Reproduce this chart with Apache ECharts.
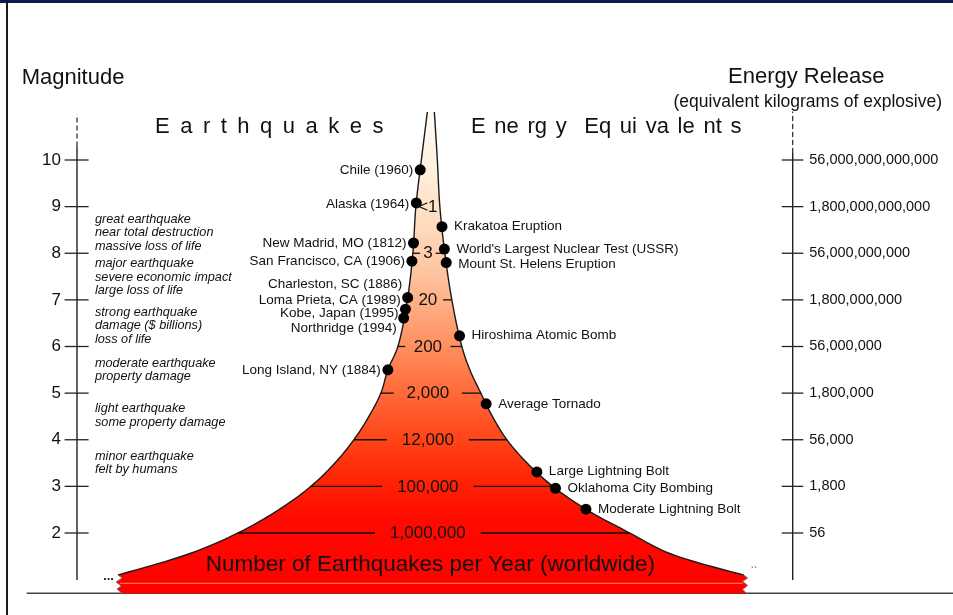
<!DOCTYPE html>
<html><head><meta charset="utf-8">
<script src="https://cdn.jsdelivr.net/npm/echarts@6/dist/echarts.min.js"></script>
<style>html,body{margin:0;padding:0;background:#fff;}#chart{width:953px;height:615px;}</style>
</head><body><div id="chart"></div>
<script>
const FF = '"Liberation Sans", Arial, Helvetica, sans-serif';

// ---- Axis scales ----
const magnitudes = [2, 3, 4, 5, 6, 7, 8, 9, 10];
const magnitudeLabels = ['2', '3', '4', '5', '6', '7', '8', '9', '10'];
const energyLabels = ['56', '1,800', '56,000', '1,800,000', '56,000,000', '1,800,000,000',
  '56,000,000,000', '1,800,000,000,000', '56,000,000,000,000'];

// ---- Number of earthquakes per year at each magnitude ----
const countMags = [2, 3, 4, 5, 6, 7, 8, 9];
const countLabels = ['1,000,000', '100,000', '12,000', '2,000', '200', '20', '3', '<1'];

// ---- Funnel outline (magnitude, left / right half-width) ----
const funnelMag   = [11.03, 10, 9, 8, 7, 6, 5.5, 5, 4.5, 4, 3.5, 3, 2.5, 2, 1.56, 1.1];
const funnelLeft  = [-3.5, -9.5, -15, -18, -23.5, -33, -43, -50, -62, -77, -96, -120, -152, -193, -241, -313];
const funnelRight = [3.5, 6.5, 9, 14, 21, 31, 39, 50, 61.6, 76, 96.3, 122, 155.8, 199, 239, 313];

// ---- Earthquakes (left side) ----
const quakeNames = ['Chile (1960)', 'Alaska (1964)', 'New Madrid, MO (1812)', 'San Francisco, CA (1906)',
  'Charleston, SC (1886)', 'Loma Prieta, CA (1989)', 'Kobe, Japan (1995)', 'Northridge (1994)', 'Long Island, NY (1884)'];
const quakeMag      = [9.79, 9.08, 8.22, 7.83, null, 7.05, 6.80, 6.61, 5.50];
const quakeLabelMag = [9.79, 9.04, 8.22, 7.83, 7.34, 7.00, 6.72, 6.40, 5.50];

// ---- Energy equivalents (right side) ----
const energyNames = ['Krakatoa Eruption', "World's Largest Nuclear Test (USSR)", 'Mount St. Helens Eruption',
  'Hiroshima Atomic Bomb', 'Average Tornado', 'Large Lightning Bolt', 'Oklahoma City Bombing', 'Moderate Lightning Bolt'];
const energyMag      = [8.57, 8.09, 7.80, 6.23, 4.77, 3.31, 2.96, 2.51];
const energyLabelMag = [8.57, 8.09, 7.77, 6.25, 4.77, 3.33, 2.96, 2.51];

// ---- Severity descriptions ----
const severityText = [
  'great earthquake\nnear total destruction\nmassive loss of life',
  'major earthquake\nsevere economic impact\nlarge loss of life',
  'strong earthquake\ndamage ($ billions)\nloss of life',
  'moderate earthquake\nproperty damage',
  'light earthquake\nsome property damage',
  'minor earthquake\nfelt by humans'
];
const severityMag = [8.443, 7.486, 6.442, 5.498, 4.52, 3.50];

const X_MIN = -354, X_MAX = 362, Y_MIN = 0.7, Y_MAX = 11.2;
const BASE_MAG = 0.705;

const mctx = document.createElement('canvas').getContext('2d');
function textW(t, font) { mctx.font = font; return mctx.measureText(t).width; }

function edgeAt(mag, arr) {
  for (let i = 0; i < funnelMag.length - 1; i++) {
    const a = funnelMag[i], b = funnelMag[i + 1];
    if (mag <= a && mag >= b) { const t = (mag - a) / (b - a); return arr[i] + t * (arr[i + 1] - arr[i]); }
  }
  return mag > funnelMag[0] ? arr[0] : arr[arr.length - 1];
}

// centripetal Catmull-Rom through pixel points (rendering only)
function smoothPts(p, n) {
  const out = [p[0]];
  for (let i = 0; i < p.length - 1; i++) {
    const p0 = p[Math.max(0, i - 1)], p1 = p[i], p2 = p[i + 1], p3 = p[Math.min(p.length - 1, i + 2)];
    const d = (a, b) => Math.pow(Math.hypot(b[0] - a[0], b[1] - a[1]) || 1e-4, 0.5);
    const t0 = 0, t1 = t0 + d(p0, p1), t2 = t1 + d(p1, p2), t3 = t2 + d(p2, p3);
    for (let k = 1; k <= n; k++) {
      const t = t1 + (t2 - t1) * k / n;
      const L = (a, b, ta, tb) => [(tb - t) / (tb - ta) * a[0] + (t - ta) / (tb - ta) * b[0], (tb - t) / (tb - ta) * a[1] + (t - ta) / (tb - ta) * b[1]];
      const A1 = L(p0, p1, t0, t1), A2 = L(p1, p2, t1, t2), A3 = L(p2, p3, t2, t3);
      const B1 = L(A1, A2, t0, t2), B2 = L(A2, A3, t1, t3);
      out.push(L(B1, B2, t1, t2));
    }
  }
  return out;
}

const chart = echarts.init(document.getElementById('chart'), null, { renderer: 'canvas' });

const gradient = new echarts.graphic.LinearGradient(0, 0, 0, 1, [
  { offset: 0, color: '#fffcf6' },
  { offset: 0.12, color: '#fff0dd' },
  { offset: 0.245, color: '#fed9bb' },
  { offset: 0.35, color: '#ffbf9a' },
  { offset: 0.432, color: '#ffa277' },
  { offset: 0.494, color: '#ff8c5c' },
  { offset: 0.583, color: '#ff6a3a' },
  { offset: 0.681, color: '#ff4418' },
  { offset: 0.764, color: '#ff2405' },
  { offset: 0.847, color: '#ff0a00' },
  { offset: 1, color: '#ff0000' }
]);

function spacedText(text, x, y, font, gap) {
  const parts = text.split(' ');
  const els = [];
  let cx = x;
  parts.forEach(p => {
    if (p.length) {
      els.push({ type: 'text', x: cx, y: y, style: { text: p, font: font, fill: '#111', align: 'left', verticalAlign: 'middle' } });
      cx += textW(p, font);
    }
    cx += gap;
  });
  return els;
}

const titleFont = '22px ' + FF;

const option = {
  animation: false,
  backgroundColor: '#ffffff',
  grid: { left: 77, right: 160.3, top: 104.05, bottom: 21.39, containLabel: false },
  xAxis: { type: 'value', min: X_MIN, max: X_MAX, show: false },
  yAxis: [
    {
      type: 'value', min: Y_MIN, max: Y_MAX, position: 'left',
      axisLine: { show: false }, splitLine: { show: false }, axisTick: { show: false },
      axisLabel: { show: true, margin: 16, customValues: magnitudes, fontSize: 17, fontFamily: FF, color: '#111',
        formatter: v => magnitudeLabels[magnitudes.indexOf(Math.round(v))] }
    },
    {
      type: 'value', min: Y_MIN, max: Y_MAX, position: 'right',
      axisLine: { show: false }, splitLine: { show: false }, axisTick: { show: false },
      axisLabel: { show: true, margin: 16.6, customValues: magnitudes, fontSize: 14.5, fontFamily: FF, color: '#111',
        formatter: v => energyLabels[magnitudes.indexOf(Math.round(v))] }
    }
  ],
  graphic: [
    { type: 'rect', shape: { x: 0, y: 0, width: 953, height: 3 }, style: { fill: '#0b1d4d' } },
    { type: 'rect', shape: { x: 6, y: 0, width: 2, height: 615 }, style: { fill: '#1a1a1a' } },
    { type: 'line', shape: { x1: 26.7, y1: 593.3, x2: 953, y2: 593.3 }, style: { stroke: '#444', lineWidth: 1.5 } },
    { type: 'text', x: 21.7, y: 78, style: { text: 'Magnitude', font: titleFont, fill: '#111', align: 'left', verticalAlign: 'middle' } },
    { type: 'text', x: 728, y: 77, style: { text: 'Energy Release', font: titleFont, fill: '#111', align: 'left', verticalAlign: 'middle' } },
    { type: 'text', x: 942, y: 102, style: { text: '(equivalent kilograms of explosive)', font: '17.5px ' + FF, fill: '#111', align: 'right', verticalAlign: 'middle' } },
    ...spacedText('E a r t h q u a k e s', 155, 127, titleFont, 10.5),
    ...spacedText('E ne rg y  Eq ui va le nt s', 471, 127, titleFont, 8.7)
  ],
  series: [
    // Funnel
    {
      type: 'custom', name: 'funnel', z: 2, clip: false, data: [[0, 5]],
      renderItem: function (params, api) {
        const left = smoothPts(funnelMag.map((m, i) => api.coord([funnelLeft[i], m])), 10);
        const right = smoothPts(funnelMag.map((m, i) => api.coord([funnelRight[i], m])), 10);
        const base = api.coord([0, BASE_MAG])[1];
        const bl = left[left.length - 1], br = right[right.length - 1];
        const jagL = [[bl[0] + 4, bl[1] + 3], [bl[0] - 2, bl[1] + 7], [bl[0] + 3, bl[1] + 11], [bl[0] - 1, bl[1] + 14], [bl[0] + 4, base]];
        const jagR = [[br[0] + 3, base], [br[0] - 1, base - 4], [br[0] + 4, base - 8], [br[0] - 1, base - 12], [br[0] + 4, br[1] + 3]];
        const pts = left.concat(jagL, jagR, right.slice().reverse());
        const c = api.coord([-0.5, 1.31]);
        return {
          type: 'group', children: [
            { type: 'polygon', shape: { points: pts }, style: { fill: gradient, stroke: null } },
            { type: 'polyline', shape: { points: left }, style: { stroke: '#1a1a1a', lineWidth: 1.4, fill: null } },
            { type: 'polyline', shape: { points: right }, style: { stroke: '#1a1a1a', lineWidth: 1.4, fill: null } },
            { type: 'polyline', shape: { points: [bl].concat(jagL) }, style: { stroke: '#777', lineWidth: 0.8, fill: null } },
            { type: 'polyline', shape: { points: jagR.concat([br]) }, style: { stroke: '#777', lineWidth: 0.8, fill: null } },
            { type: 'line', shape: { x1: bl[0] + 2, y1: base - 10, x2: br[0] - 1, y2: base - 10 }, style: { stroke: '#ff7040', lineWidth: 1.2 } },
            { type: 'text', x: bl[0] - 4, y: bl[1] + 1, style: { text: '...', font: 'bold 13px ' + FF, fill: '#222', align: 'right', verticalAlign: 'middle' } },
            { type: 'text', x: br[0] + 7, y: br[1] - 3, style: { text: '``', font: '10px ' + FF, fill: '#444', align: 'left', verticalAlign: 'middle' } },
            { type: 'text', x: c[0], y: c[1], style: { text: 'Number of Earthquakes per Year (worldwide)', font: '22.5px ' + FF, fill: '#111', align: 'center', verticalAlign: 'middle' } }
          ]
        };
      }
    },
    // Level lines with earthquake counts
    {
      type: 'custom', name: 'counts', z: 3, clip: false, data: countMags.map((m, i) => [i, m]),
      renderItem: function (params, api) {
        const i = params.dataIndex, m = countMags[i], label = countLabels[i];
        const font = '17px ' + FF;
        const L = api.coord([edgeAt(m, funnelLeft), m]);
        const R = api.coord([edgeAt(m, funnelRight), m]);
        const c = api.coord([-3, m]);
        const w = textW(label, font);
        const gap = Math.min(15, Math.max(3, w * 0.3));
        const lx = c[0] - w / 2 - gap, rx = c[0] + w / 2 + gap;
        const ch = [];
        if (lx - L[0] > 1) ch.push({ type: 'line', shape: { x1: L[0], y1: L[1], x2: lx, y2: L[1] }, style: { stroke: '#111', lineWidth: 1.3 } });
        if (R[0] - rx > 1) ch.push({ type: 'line', shape: { x1: rx, y1: R[1], x2: R[0], y2: R[1] }, style: { stroke: '#111', lineWidth: 1.3 } });
        ch.push({ type: 'text', x: c[0], y: c[1] + 0.5, style: { text: label, font: font, fill: '#111', align: 'center', verticalAlign: 'middle' } });
        return { type: 'group', children: ch };
      }
    },
    // Earthquake events
    {
      type: 'custom', name: 'quakes', z: 4, clip: false, data: quakeNames.map((n, i) => [i, quakeLabelMag[i]]),
      renderItem: function (params, api) {
        const i = params.dataIndex;
        const dm = quakeMag[i], lm = quakeLabelMag[i];
        const ch = [];
        const ref = dm != null ? dm : lm;
        const p = api.coord([edgeAt(ref, funnelLeft), ref]);
        const pl = api.coord([edgeAt(lm, funnelLeft), lm]);
        if (dm != null) ch.push({ type: 'circle', shape: { cx: p[0], cy: p[1], r: 5.5 }, style: { fill: '#000' } });
        ch.push({ type: 'text', x: p[0] - 7, y: pl[1], style: { text: quakeNames[i], font: '13.5px ' + FF, fill: '#111', align: 'right', verticalAlign: 'middle' } });
        return { type: 'group', children: ch };
      }
    },
    // Energy equivalents
    {
      type: 'custom', name: 'energy', z: 4, clip: false, data: energyNames.map((n, i) => [i, energyMag[i]]),
      renderItem: function (params, api) {
        const i = params.dataIndex;
        const p = api.coord([edgeAt(energyMag[i], funnelRight), energyMag[i]]);
        const pl = api.coord([0, energyLabelMag[i]]);
        return {
          type: 'group', children: [
            { type: 'circle', shape: { cx: p[0], cy: p[1], r: 5.5 }, style: { fill: '#000' } },
            { type: 'text', x: p[0] + 12, y: pl[1], style: { text: energyNames[i], font: '13.5px ' + FF, fill: '#111', align: 'left', verticalAlign: 'middle' } }
          ]
        };
      }
    },
    // Severity descriptions
    {
      type: 'custom', name: 'severity', z: 4, clip: false, data: severityMag.map((m, i) => [i, m]),
      renderItem: function (params, api) {
        const i = params.dataIndex;
        const p = api.coord([X_MIN, severityMag[i]]);
        return { type: 'text', x: p[0] + 18, y: p[1], style: { text: severityText[i], font: 'italic 12.7px ' + FF, fill: '#111', align: 'left', verticalAlign: 'middle', lineHeight: 13.6 } };
      }
    },
    // Axis ticks crossing both axis lines
    {
      type: 'custom', name: 'ticks', z: 5, clip: false, data: magnitudes.map(m => [0, m]),
      renderItem: function (params, api) {
        const m = magnitudes[params.dataIndex];
        const a = api.coord([X_MIN, m]), b = api.coord([X_MAX, m]);
        return {
          type: 'group', children: [
            { type: 'line', shape: { x1: a[0] - 12.4, y1: a[1], x2: a[0] + 11.6, y2: a[1] }, style: { stroke: '#222', lineWidth: 1.3 } },
            { type: 'line', shape: { x1: b[0] - 11, y1: b[1], x2: b[0] + 10.6, y2: b[1] }, style: { stroke: '#222', lineWidth: 1.3 } }
          ]
        };
      }
    },
    // Axis lines
    { type: 'line', clip: false, symbol: 'none', silent: true, data: [[X_MIN, 0.992], [X_MIN, 10.29]], lineStyle: { color: '#222', width: 1.4 } },
    { type: 'line', clip: false, symbol: 'none', silent: true, data: [[X_MIN, 10.29], [X_MIN, 10.98]], lineStyle: { color: '#222', width: 1.2, type: [5, 3] } },
    { type: 'line', clip: false, symbol: 'none', silent: true, data: [[X_MAX, 0.992], [X_MAX, 10.15]], lineStyle: { color: '#222', width: 1.4 } },
    { type: 'line', clip: false, symbol: 'none', silent: true, data: [[X_MAX, 10.15], [X_MAX, 11.04]], lineStyle: { color: '#222', width: 1.2, type: [5, 3] } }
  ]
};
chart.setOption(option);
</script></body></html>
